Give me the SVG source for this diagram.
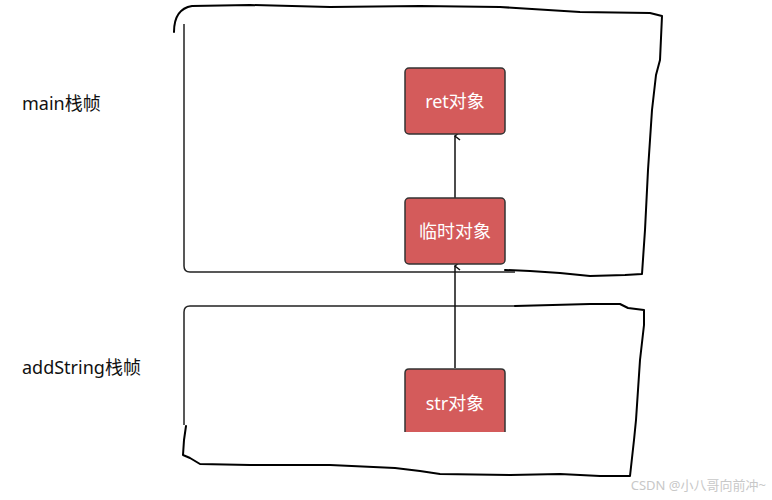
<svg xmlns="http://www.w3.org/2000/svg" width="772" height="500" viewBox="0 0 772 500">
<style>
.fr{fill:none;stroke:#000;stroke-width:2;stroke-linejoin:round;stroke-linecap:round}
.thin{fill:none;stroke:#222;stroke-width:1.5}
.node{fill:#d45b5b;stroke:#333;stroke-width:1.5}
.nt{font-family:"Noto Sans","Noto Sans CJK SC",sans-serif;font-size:18px;fill:#fff;text-anchor:middle}
.lb{font-family:"Noto Sans","Noto Sans CJK SC",sans-serif;font-size:18px;fill:#111}
.conn{stroke:#111;stroke-width:1.5;fill:none;marker-end:url(#ah)}
</style>
<defs>
<marker id="ah" markerWidth="10" markerHeight="10" refX="5" refY="1" orient="auto-start-reverse" markerUnits="userSpaceOnUse" viewBox="0 0 10 10">
<path d="M1,6 L5,1 L9,6" fill="none" stroke="#111" stroke-width="1.5"/>
</marker>
</defs>
<rect width="772" height="500" fill="#fff"/>
<g id="frames">
<path class="fr" d="M174,32 C174,16 180,8 192,6 L250,5 L330,7 L420,6 L500,7 L580,12 L650,13 L662,16 L660,60 L656,75 L652,110 L648,170 L645,230 L642,274 L625,275 L590,276 L560,273 L530,271 L505,270"/>
<path class="thin" d="M184,24 L184,266 Q184,272 190,272 L515,272"/>
<path class="thin" d="M515,306 L190,306 Q184,306 184,312 L184,425"/>
<path class="fr" d="M515,306 L590,304 L620,304 L628,308 L644,310 L644,325 L640,360 L636,420 L634,440 L630,476 L600,476 L560,474 L510,475 L440,474 L420,471 L395,468 L330,465 L250,465 L200,464 L190,458 L183,455 L184,440 L186,426"/>
</g>
<text class="lb" x="22" y="110">main栈帧</text>
<text class="lb" x="22" y="374">addString栈帧</text>
<g id="connectors">
<line class="conn" x1="455" y1="198" x2="455" y2="136"/>
<line class="conn" x1="455" y1="368" x2="455" y2="266"/>
</g>
<g id="ret"><rect class="node" x="405" y="68" width="100" height="66" rx="4"/><text class="nt" x="455" y="108">ret对象</text></g>
<g id="tmp"><rect class="node" x="405" y="198" width="100" height="66" rx="4"/><text class="nt" x="455" y="238">临时对象</text></g>
<g id="str"><path class="node" d="M405,432 L405,373 Q405,369 409,369 L501,369 Q505,369 505,373 L505,432"/><text class="nt" x="455" y="410">str对象</text></g>
<text x="766" y="490" font-family="Noto Sans,Noto Sans CJK SC,sans-serif" font-size="13" fill="#c8c8c8" text-anchor="end">CSDN @小八哥向前冲~</text>
</svg>
